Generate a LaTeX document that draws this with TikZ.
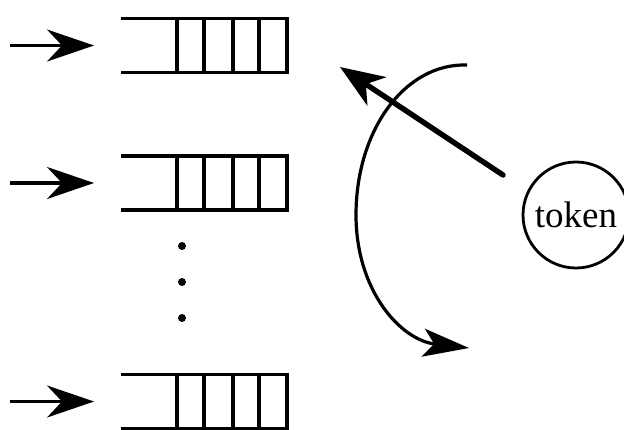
\documentclass[tikz,border=0pt]{standalone}
\usepackage{fontspec}
\setmainfont{Liberation Serif}
\usetikzlibrary{arrows.meta,calc}
\begin{document}
\begin{tikzpicture}[x=1pt,y=-1pt,
  qline/.style={line width=3.2pt},
  queuebox/.style={minimum width=166pt,minimum height=54pt,inner sep=0pt,outer sep=0pt},
  inarrow/.style={line width=3.2pt,-{Stealth[length=47pt,width=32pt,inset=15pt]}},
  dotnode/.style={circle,fill=black,minimum size=8pt,inner sep=0pt},
  tokennode/.style={draw,circle,line width=2.8pt,minimum size=106pt,inner sep=0pt,font=\fontsize{37}{40}\selectfont},
  passarrow/.style={line width=5.4pt,line cap=round,-{Stealth[length=44pt,width=34pt,inset=13pt]}},
  rotarrow/.style={line width=3.2pt,-{Stealth[length=46pt,width=28pt,inset=11pt]}}]
\useasboundingbox (0,0) rectangle (624,429);
\foreach \n/\y in {1/45.5,2/183,3/401.5} {
  \node[queuebox] (q\n) at (204,\y) {};
  \draw[qline] (q\n.north west) -- (q\n.north east) -- (q\n.south east) -- (q\n.south west);
  \foreach \dx in {56,83,112,138} {
    \draw[qline] ($(q\n.north west)+(\dx,0)$) -- ($(q\n.south west)+(\dx,0)$);
  }
  \coordinate (s\n) at (10,\y);
  \coordinate (e\n) at (94,\y);
  \draw[inarrow] (s\n) -- (e\n);
}
\node[dotnode] (d1) at (182,246) {};
\node[dotnode] (d2) at (182,282) {};
\node[dotnode] (d3) at (182,318) {};
\node[tokennode] (token) at (576,215) {token};
\coordinate (dstart) at (503,175);
\coordinate (dtip) at (340,67);
\draw[passarrow] (dstart) -- (dtip);
\coordinate (atop) at (467,65);
\coordinate (aleft) at (356,215);
\coordinate (abot) at (469,348);
\draw[rotarrow] (atop) .. controls (405,63) and (356,130) .. (aleft) .. controls (356,290) and (400,340) .. (abot);
\end{tikzpicture}
\end{document}
